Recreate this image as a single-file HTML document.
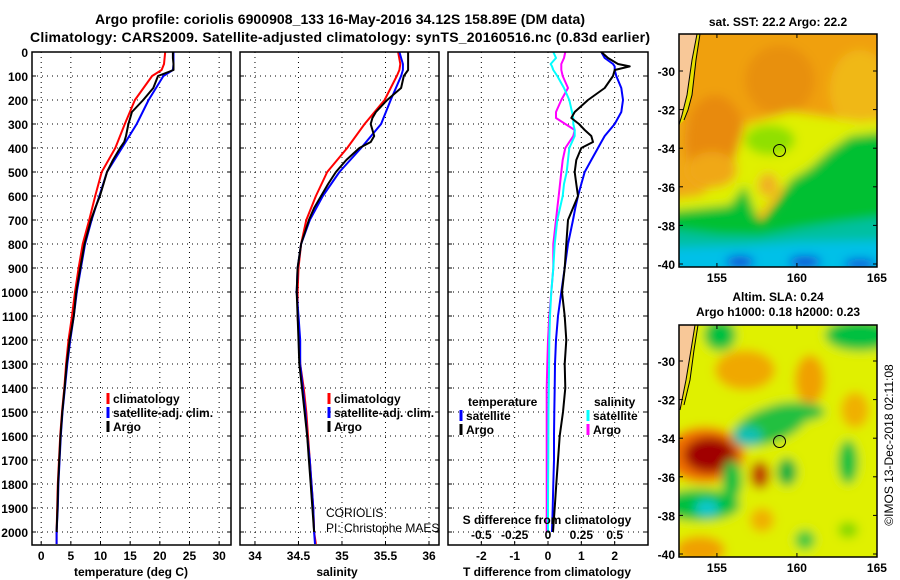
<!DOCTYPE html>
<html><head><meta charset="utf-8"><style>
html,body{margin:0;padding:0;background:#fff}
svg{display:block}
text{font-family:"Liberation Sans",sans-serif;font-weight:bold;fill:#000}
</style></head><body>
<svg id="fig" width="900" height="580" viewBox="0 0 900 580" xmlns="http://www.w3.org/2000/svg">
<defs>
<filter id="blur6" x="-20%" y="-20%" width="140%" height="140%"><feGaussianBlur stdDeviation="5"/></filter>
<clipPath id="clipTop"><rect x="679" y="34" width="198" height="233"/></clipPath>
<clipPath id="clipBot"><rect x="679" y="325" width="198" height="232"/></clipPath>
</defs>
<text x="340" y="24" text-anchor="middle" font-size="14" textLength="490">Argo profile: coriolis 6900908_133 16-May-2016 34.12S 158.89E (DM data)</text>
<text x="340" y="42" text-anchor="middle" font-size="14" textLength="620">Climatology: CARS2009. Satellite-adjusted climatology: synTS_20160516.nc (0.83d earlier)</text>

<!-- top map -->
<g>
<g clip-path="url(#clipTop)">
<rect x="679" y="34" width="198" height="233" fill="#f0a818"/>
<g filter="url(#blur6)">
<rect x="650" y="10" width="260" height="110" fill="#f0a010"/>
<ellipse cx="715" cy="140" rx="30" ry="45" fill="#e88a10"/>
<ellipse cx="780" cy="80" rx="35" ry="35" fill="#e89010"/>
<ellipse cx="860" cy="90" rx="30" ry="40" fill="#f0b818"/>
<polygon points="660,200 700,195 730,175 745,125 790,112 860,122 900,118 900,170 830,160 800,175 780,190 760,215 740,210 660,215" fill="#e0f000"/>
<ellipse cx="770" cy="140" rx="25" ry="15" fill="#90e000"/>
<ellipse cx="712" cy="170" rx="25" ry="18" fill="#f0a818"/>
<ellipse cx="768" cy="185" rx="10" ry="12" fill="#f0b020"/>
<polygon points="660,212 730,205 745,185 760,225 780,200 790,180 810,168 830,150 850,136 900,130 900,300 660,300" fill="#00c030"/>
<polygon points="660,228 720,235 760,236 800,228 840,222 900,215 900,300 660,300" fill="#00c0a0"/>
<polygon points="660,248 740,246 800,242 900,240 900,300 660,300" fill="#00c0e8"/>
<ellipse cx="740" cy="262" rx="14" ry="6" fill="#1040d8"/>
<ellipse cx="805" cy="262" rx="16" ry="6" fill="#1040d8"/>
<ellipse cx="860" cy="264" rx="16" ry="5" fill="#1040d8"/>
</g>
<polygon points="679,34 697,34 692,60 687,95 682,115 679,125" fill="#f8c898"/>
<polygon points="697,34 700,34 696,60 692,95 688,110 684,120 679,125 682,115 687,95 692,60" fill="#e8e000"/>
<polyline points="697,34 692,60 687,95 682,115 679,125" fill="none" stroke="#000" stroke-width="1"/>
<polyline points="700,34 696,60 692,95 688,110 684,120" fill="none" stroke="#000" stroke-width="1"/>
<circle cx="779.5" cy="150.5" r="6" fill="none" stroke="#000" stroke-width="1"/>
</g>
<rect x="679" y="34" width="198" height="233" fill="none" stroke="#000" stroke-width="1.5"/>
</g>
<text x="778" y="26" text-anchor="middle" font-size="12">sat. SST: 22.2 Argo: 22.2</text>

<!-- bottom map -->
<g>
<g clip-path="url(#clipBot)">
<rect x="679" y="325" width="198" height="232" fill="#e0f000"/>
<g filter="url(#blur6)">
<rect x="650" y="300" width="260" height="290" fill="#e0f000"/>
<ellipse cx="745" cy="370" rx="30" ry="20" fill="#f0a800"/>
<ellipse cx="810" cy="380" rx="15" ry="25" fill="#f0a000"/>
<ellipse cx="855" cy="410" rx="14" ry="18" fill="#f0b000"/>
<ellipse cx="720" cy="335" rx="16" ry="16" fill="#00c040"/>
<ellipse cx="860" cy="335" rx="35" ry="16" fill="#00c040"/>
<ellipse cx="705" cy="455" rx="40" ry="28" fill="#f07000"/>
<ellipse cx="710" cy="455" rx="26" ry="18" fill="#a00000"/>
<ellipse cx="770" cy="425" rx="40" ry="18" fill="#20c040" transform="rotate(-20 770 425)"/>
<ellipse cx="795" cy="412" rx="30" ry="10" fill="#20c040"/>
<ellipse cx="748" cy="436" rx="14" ry="9" fill="#10c0b8"/>
<ellipse cx="760" cy="475" rx="10" ry="14" fill="#c04000"/>
<ellipse cx="787" cy="472" rx="10" ry="14" fill="#00b040"/>
<ellipse cx="848" cy="462" rx="10" ry="22" fill="#00c040"/>
<ellipse cx="700" cy="505" rx="40" ry="16" fill="#00c040"/>
<ellipse cx="732" cy="480" rx="10" ry="20" fill="#00c040"/>
<ellipse cx="707" cy="508" rx="12" ry="8" fill="#10c8d0"/>
<ellipse cx="700" cy="550" rx="25" ry="14" fill="#f0a000"/>
<ellipse cx="762" cy="520" rx="12" ry="12" fill="#f0b000"/>
<ellipse cx="805" cy="540" rx="10" ry="10" fill="#40c840"/>
<ellipse cx="848" cy="530" rx="10" ry="8" fill="#80d800"/>
</g>
<polygon points="679,325 695,325 691,350 686,380 680,410 679,412" fill="#f8c898"/>
<polygon points="695,325 698,325 694,350 690,380 684,405 680,410 686,380 691,350" fill="#e8e000"/>
<polyline points="695,325 691,350 686,380 680,410" fill="none" stroke="#000" stroke-width="1"/>
<polyline points="698,325 694,350 690,380 684,405" fill="none" stroke="#000" stroke-width="1"/>
<circle cx="779.5" cy="441.5" r="6" fill="none" stroke="#000" stroke-width="1"/>
</g>
<rect x="679" y="325" width="198" height="232" fill="none" stroke="#000" stroke-width="1.5"/>
</g>
<text x="778" y="301" text-anchor="middle" font-size="12">Altim. SLA: 0.24</text>
<text x="778" y="316" text-anchor="middle" font-size="12">Argo h1000: 0.18 h2000: 0.23</text>
<text transform="translate(893,445) rotate(-90)" text-anchor="middle" font-size="12" style="font-weight:normal">©IMOS 13-Dec-2018 02:11:08</text>

<g id="plots"></g>
</svg>
<script>
// ---------- data ----------
var depthTicks = [0,100,200,300,400,500,600,700,800,900,1000,1100,1200,1300,1400,1500,1600,1700,1800,1900,2000];
var tempTicks = [0,5,10,15,20,25,30];
var salTicks = [34,34.5,35,35.5,36];
var salTickLabels = ["34","34.5","35","35.5","36"];
var tdiffTicks = [-2,-1,0,1,2];
var sdiffTicks = [-0.5,-0.25,0,0.25,0.5];
var sdiffTickLabels = ["-0.5","-0.25","0","0.25","0.5"];

var climDepth = [0,50,75,100,200,300,400,500,600,700,800,900,1000,1100,1200,1300,1400,1500,1600,1700,1800,1900,2000,2050];
var tempClim = [20.9,20.7,20.3,18.7,15.8,14.1,12.5,10.2,9.1,8.1,7.0,6.3,5.7,5.2,4.6,4.2,3.9,3.5,3.2,3.0,2.8,2.7,2.6,2.6];
var tempSat  = [22.3,22.3,22.2,20.6,18.1,16.1,13.6,11.1,9.8,8.5,7.4,6.7,6.0,5.5,4.9,4.4,4.0,3.6,3.3,3.1,2.9,2.8,2.6,2.6];
var salClim = [35.645,35.67,35.66,35.63,35.49,35.26,35.06,34.83,34.70,34.59,34.53,34.50,34.49,34.49,34.51,34.52,34.56,34.59,34.61,34.63,34.65,34.67,34.68,34.70];
var salSat  = [35.66,35.70,35.70,35.68,35.56,35.45,35.22,34.97,34.78,34.63,34.53,34.49,34.48,34.50,34.52,34.52,34.55,34.58,34.60,34.63,34.65,34.67,34.68,34.69];

var argoDepth = [0,25,50,60,75,100,150,200,250,275,300,350,375,400,450,500,550,600,650,700,800,900,1000,1100,1200,1300,1400,1500,1600,1700,1800,1900,2000];
var tempArgo = [22.2,22.2,22.3,22.3,22.3,19.7,18.9,17.2,15.3,15.0,14.7,14.3,14.0,13.3,12.1,11.1,10.5,9.9,9.1,8.4,7.3,6.6,5.9,5.5,4.8,4.3,3.95,3.55,3.25,3.05,2.85,2.75,2.6];
var salArgo = [35.76,35.76,35.76,35.76,35.76,35.71,35.68,35.52,35.39,35.35,35.33,35.37,35.33,35.20,35.05,34.93,34.84,34.76,34.68,34.62,34.53,34.49,34.48,34.49,34.50,34.51,34.54,34.57,34.60,34.62,34.64,34.66,34.68];

var diffDepth = [0,25,50,60,75,100,150,200,250,275,300,325,350,375,400,450,500,550,600,650,700,800,900,1000,1100,1200,1300,1400,1500,1600,1700,1800,1900,2000];
var tdiffSat  = [1.6,1.7,1.95,2.0,2.0,2.05,2.2,2.25,2.2,2.1,2.0,1.85,1.7,1.6,1.5,1.3,1.1,1.0,0.9,0.82,0.75,0.6,0.5,0.4,0.3,0.24,0.21,0.2,0.19,0.18,0.18,0.16,0.14,0.12];
var tdiffArgo = [1.6,1.8,2.1,2.45,2.0,1.95,1.7,1.2,0.8,0.7,0.93,1.1,1.3,1.35,1.0,0.85,0.8,0.85,0.9,0.75,0.6,0.55,0.5,0.42,0.5,0.55,0.5,0.52,0.45,0.35,0.3,0.25,0.2,0.15];
var sdiffSat  = [0.04,0.06,0.02,0.03,0.04,0.07,0.12,0.16,0.18,0.19,0.19,0.2,0.2,0.18,0.16,0.15,0.14,0.12,0.11,0.09,0.07,0.05,0.04,0.025,0.015,0.01,0.008,0.006,0.004,0.003,0.002,0.001,0.0,0.0];
var sdiffArgo = [0.13,0.12,0.10,0.10,0.10,0.11,0.15,0.10,0.06,0.06,0.13,0.2,0.19,0.16,0.13,0.11,0.10,0.09,0.08,0.07,0.06,0.04,0.04,0.025,0.01,0.0,-0.005,-0.01,-0.01,-0.01,-0.01,-0.01,-0.01,-0.01];

var mapLatTicks = [-30,-32,-34,-36,-38,-40];
var mapLonTicks = [155,160,165];

// ---------- helpers ----------
var NS = "http://www.w3.org/2000/svg";
var root = document.getElementById('plots');
function mk(tag, attrs, parent) {
  var e = document.createElementNS(NS, tag);
  for (var k in attrs) e.setAttribute(k, attrs[k]);
  (parent || root).appendChild(e);
  return e;
}
var yTop = 52, yBot = 545, pxPerM = 0.24;
function yD(d) { return yTop + d * pxPerM; }

function makePanel(x0, x1, xmin, xmax, name) {
  var g = mk('g', {});
  
  
  var sx = function (v) { return x0 + (v - xmin) / (xmax - xmin) * (x1 - x0); };
  return {g: g, sx: sx, x0: x0, x1: x1};
}
function grid(p, ticks) {
  depthTicks.forEach(function (d) {
    if (d === 0) return;
    var l = mk('line', {x1: p.x0, x2: p.x1, y1: yD(d), y2: yD(d), stroke: '#000', 'stroke-width': 1, 'stroke-dasharray': '1,4'}, p.g);
    
    
    mk('line', {x1: p.x0, x2: p.x0 + 4, y1: yD(d), y2: yD(d), stroke: '#000'}, p.g);
    mk('line', {x1: p.x1 - 4, x2: p.x1, y1: yD(d), y2: yD(d), stroke: '#000'}, p.g);
  });
  ticks.forEach(function (t) {
    var l = mk('line', {x1: p.sx(t), x2: p.sx(t), y1: yTop, y2: yBot, stroke: '#000', 'stroke-width': 1, 'stroke-dasharray': '1,4'}, p.g);
    
    
    mk('line', {x1: p.sx(t), x2: p.sx(t), y1: yBot - 4, y2: yBot, stroke: '#000'}, p.g);
  });
}
function frame(p) {
  var r = mk('rect', {x: p.x0, y: yTop, width: p.x1 - p.x0, height: yBot - yTop, fill: 'none', stroke: '#000', 'stroke-width': 1.5}, p.g);
  
  
}
function series(p, depths, vals, color, name, sx) {
  var f = sx || p.sx;
  var pts = depths.map(function (d, i) { return f(vals[i]).toFixed(1) + ',' + yD(d).toFixed(1); }).join(' ');
  var pl = mk('polyline', {points: pts, fill: 'none', stroke: color, 'stroke-width': 2, 'stroke-linejoin': 'round'}, p.g);
  
  
}
function txt(x, y, s, size, anchor, parent, name, weight) {
  var t = mk('text', {x: x, y: y, 'font-size': size, 'text-anchor': anchor || 'start'}, parent);
  if (weight) t.setAttribute('style', 'font-weight:' + weight);
  t.textContent = s;
  
  
  return t;
}
function legendEntry(g, x, y, color, label, name) {
  var m = mk('line', {x1: x, x2: x, y1: y - 10, y2: y + 1, stroke: color, 'stroke-width': 3}, g);
  
  
  txt(x + 5, y, label, 12, 'start', g, name);
}

// ---------- panel 1: temperature ----------
var p1 = makePanel(32, 231, -1.55, 32.0, 'temperature-panel');
grid(p1, tempTicks);
series(p1, climDepth, tempClim, '#ff0000', 'temperature-climatology-line');
series(p1, climDepth, tempSat, '#0000ff', 'temperature-satellite-line');
series(p1, argoDepth, tempArgo, '#000000', 'temperature-argo-line');
frame(p1);
depthTicks.forEach(function (d) { txt(28, yD(d) + 5, String(d), 12, 'end', p1.g, 'depth-tick-label'); });
tempTicks.forEach(function (t) { txt(p1.sx(t), 560, String(t), 12, 'middle', p1.g, 'temperature-tick-label'); });
txt(131, 576, 'temperature (deg C)', 12, 'middle', p1.g, 'temperature-axis-title');
legendEntry(p1.g, 108, 403, '#ff0000', 'climatology', 'legend-climatology');
legendEntry(p1.g, 108, 417, '#0000ff', 'satellite-adj. clim.', 'legend-satellite-adj');
legendEntry(p1.g, 108, 431, '#000000', 'Argo', 'legend-argo');

// ---------- panel 2: salinity ----------
var p2 = makePanel(240, 439, 33.828, 36.115, 'salinity-panel');
grid(p2, salTicks);
series(p2, climDepth, salClim, '#ff0000', 'salinity-climatology-line');
series(p2, climDepth, salSat, '#0000ff', 'salinity-satellite-line');
series(p2, argoDepth, salArgo, '#000000', 'salinity-argo-line');
frame(p2);
salTicks.forEach(function (t, i) { txt(p2.sx(t), 560, salTickLabels[i], 12, 'middle', p2.g, 'salinity-tick-label'); });
txt(337, 576, 'salinity', 12, 'middle', p2.g, 'salinity-axis-title');
legendEntry(p2.g, 329, 403, '#ff0000', 'climatology', 'legend-climatology');
legendEntry(p2.g, 329, 417, '#0000ff', 'satellite-adj. clim.', 'legend-satellite-adj');
legendEntry(p2.g, 329, 431, '#000000', 'Argo', 'legend-argo');
txt(326, 517, 'CORIOLIS', 12, 'start', p2.g, 'data-centre-label', 'normal');
txt(326, 532, 'PI: Christophe MAES', 12, 'start', p2.g, 'pi-label', 'normal');

// ---------- panel 3: differences ----------
var p3 = makePanel(448, 648, -3, 3, 'difference-panel');
var sxS = function (v) { return p3.sx(v * 4); };
grid(p3, tdiffTicks);
series(p3, diffDepth, sdiffArgo, '#ff00ff', 'salinity-argo-diff-line', sxS);
series(p3, diffDepth, sdiffSat, '#00ffff', 'salinity-satellite-diff-line', sxS);
series(p3, diffDepth, tdiffSat, '#0000ff', 'temperature-satellite-diff-line');
series(p3, diffDepth, tdiffArgo, '#000000', 'temperature-argo-diff-line');
frame(p3);
tdiffTicks.forEach(function (t) { txt(p3.sx(t), 560, String(t), 12, 'middle', p3.g, 'tdiff-tick-label'); });
txt(547, 576, 'T difference from climatology', 12, 'middle', p3.g, 'tdiff-axis-title');
txt(547, 524, 'S difference from climatology', 12, 'middle', p3.g, 'sdiff-axis-title');
sdiffTicks.forEach(function (t, i) { txt(sxS(t), 539, sdiffTickLabels[i], 12, 'middle', p3.g, 'sdiff-tick-label'); });
txt(468, 406, 'temperature', 12, 'start', p3.g, 'legend-temperature-heading');
legendEntry(p3.g, 461, 420, '#0000ff', 'satellite', 'legend-temperature-satellite');
legendEntry(p3.g, 461, 434, '#000000', 'Argo', 'legend-temperature-argo');
txt(594, 406, 'salinity', 12, 'start', p3.g, 'legend-salinity-heading');
legendEntry(p3.g, 588, 420, '#00ffff', 'satellite', 'legend-salinity-satellite');
legendEntry(p3.g, 588, 434, '#ff00ff', 'Argo', 'legend-salinity-argo');

// ---------- map axes ----------
function mapAxes(yTopMap, yBotMap, lat30y, name) {
  var g = mk('g', {});
  
  
  var ly = function (lat) { return lat30y + (-30 - lat) * 19.3; };
  var lx = function (lon) { return 679 + (lon - 152.63) * 16.0; };
  mapLatTicks.forEach(function (lat) {
    var y = ly(lat);
    mk('line', {x1: 679, x2: 683, y1: y, y2: y, stroke: '#000'}, g);
    mk('line', {x1: 873, x2: 877, y1: y, y2: y, stroke: '#000'}, g);
    txt(675, y + 5, String(lat), 12, 'end', g, 'map-lat-label');
  });
  mapLonTicks.forEach(function (lon) {
    var x = lx(lon);
    mk('line', {x1: x, x2: x, y1: yBotMap - 4, y2: yBotMap, stroke: '#000'}, g);
    mk('line', {x1: x, x2: x, y1: yTopMap, y2: yTopMap + 4, stroke: '#000'}, g);
    txt(x, yBotMap + 15, String(lon), 12, 'middle', g, 'map-lon-label');
  });
}
mapAxes(34, 267, 71, 'sst-map-axes');
mapAxes(325, 557, 361, 'sla-map-axes');
</script>
</body></html>
